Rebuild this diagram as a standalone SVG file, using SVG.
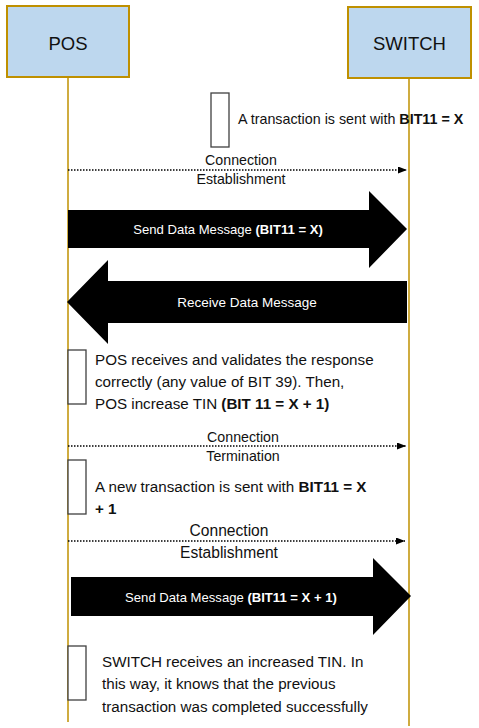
<svg xmlns="http://www.w3.org/2000/svg" width="479" height="728" viewBox="0 0 479 728">
<defs>
<marker id="ah" markerWidth="9" markerHeight="7" refX="9" refY="3.5" orient="auto" markerUnits="userSpaceOnUse"><path d="M0,0 L9,3.5 L0,7 Z" fill="#000"/></marker>
<style>
.hdr{fill:#BDD7EE;stroke:#BF9000;stroke-width:2}
.life{stroke:#BF9000;stroke-width:1.5;fill:none}
.act{fill:#fff;stroke:#404040;stroke-width:1.3}
.dot{stroke:#000;stroke-width:1.3;stroke-dasharray:1.5 1.5;fill:none}
.big{fill:#000}
text{font-family:"Liberation Sans",Arial,sans-serif;fill:#111}
.t{font-size:18.5px}
.n{font-size:15.2px}
.c{font-size:14.2px;text-anchor:middle}
.w{font-size:13.1px;fill:#fff;text-anchor:middle}
.b{font-weight:bold}
</style>
</defs>
<g id="lifelines">
<line class="life" x1="68" y1="77" x2="68" y2="722"/>
<line class="life" x1="409" y1="78" x2="409" y2="726"/>
</g>
<g id="pos"><rect class="hdr" x="7" y="6" width="122" height="71"/><text class="t" x="68" y="50" text-anchor="middle">POS</text></g>
<g id="switch"><rect class="hdr" x="348" y="7" width="123" height="71"/><text class="t" x="409.5" y="50" text-anchor="middle">SWITCH</text></g>
<g id="connectors">
<line class="dot" x1="68" y1="170" x2="407" y2="170" marker-end="url(#ah)"/>
<path class="big" d="M68,210 L369,210 L369,191 L407,229 L369,268 L369,248 L68,248 Z"/>
<path class="big" d="M407,281 L108,281 L108,260 L67,302 L108,344 L108,323 L407,323 Z"/>
<line class="dot" x1="68" y1="446" x2="406" y2="446" marker-end="url(#ah)"/>
<line class="dot" x1="68" y1="541" x2="405" y2="541" marker-end="url(#ah)"/>
<path class="big" d="M71,577 L373,577 L373,558 L411,596 L373,635 L373,616 L71,616 Z"/>
</g>
<g id="labels">
<text class="c" x="241" y="165">Connection</text>
<text class="c" x="241" y="184">Establishment</text>
<text class="w" x="228" y="234">Send Data Message <tspan class="b">(BIT11 = X)</tspan></text>
<text class="w" x="247" y="307" style="font-size:13.5px">Receive Data Message</text>
<text class="c" x="243" y="442">Connection</text>
<text class="c" x="243" y="461">Termination</text>
<text class="c" x="229" y="536" style="font-size:15.6px">Connection</text>
<text class="c" x="229" y="558" style="font-size:15.6px">Establishment</text>
<text class="w" x="231" y="602">Send Data Message <tspan class="b">(BIT11 = X + 1)</tspan></text>
</g>
<g id="note1"><rect class="act" x="211" y="93" width="18" height="54"/><text x="238" y="124" style="font-size:14.3px">A transaction is sent with <tspan class="b">BIT11 = X</tspan></text></g>
<g id="note2"><rect class="act" x="68" y="350" width="18" height="54"/>
<text class="n" x="95" y="365">POS receives and validates the response</text>
<text class="n" x="95" y="387">correctly (any value of BIT 39). Then,</text>
<text class="n" x="95" y="409">POS increase TIN <tspan class="b">(BIT 11 = X + 1)</tspan></text></g>
<g id="note3"><rect class="act" x="68" y="460" width="18" height="54"/>
<text class="n" x="95" y="492">A new transaction is sent with <tspan class="b">BIT11 = X</tspan></text>
<text class="n b" x="95" y="514">+ 1</text></g>
<g id="note4"><rect class="act" x="68" y="646" width="18" height="54"/>
<text class="n" x="102" y="667">SWITCH receives an increased TIN. In</text>
<text class="n" x="102" y="689">this way, it knows that the previous</text>
<text class="n" x="102" y="712">transaction was completed successfully</text></g>
</svg>
